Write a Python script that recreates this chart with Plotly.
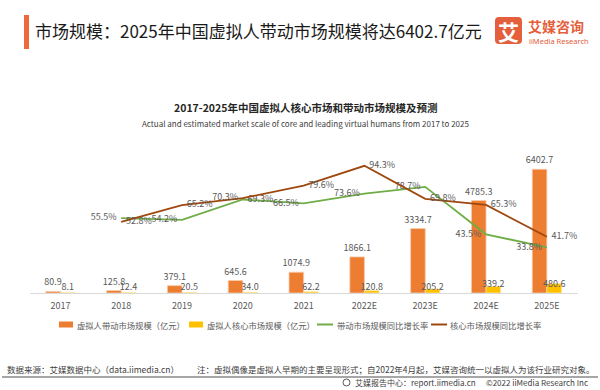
import plotly.graph_objects as go

# ---------------- data ----------------
years = ["2017", "2018", "2019", "2020", "2021", "2022E", "2023E", "2024E", "2025E"]
leading_scale = [80.9, 125.8, 379.1, 645.6, 1074.9, 1866.1, 3334.7, 4785.3, 6402.7]   # 带动市场规模（亿元）
core_scale = [8.1, 12.4, 20.5, 34.0, 62.2, 120.8, 205.2, 339.2, 480.6]                # 核心市场规模（亿元）
growth_years = years[1:]
leading_growth = [55.5, 54.2, 69.3, 66.5, 73.6, 78.7, 43.5, 33.8]   # 带动市场规模同比增长率 (%)
core_growth = [52.8, 65.2, 70.3, 79.6, 94.3, 69.8, 65.3, 41.7]      # 核心市场规模同比增长率 (%)

names = ["虚拟人带动市场规模（亿元）", "虚拟人核心市场规模（亿元）", "带动市场规模同比增长率", "核心市场规模同比增长率"]

# ---------------- style ----------------
FONT = "Noto Sans CJK SC"
C_ORANGE = "#ED7D31"
C_YELLOW = "#FFC000"
C_GREEN = "#70AD47"
C_BROWN = "#9E480E"
C_TXT = "#595959"
C_LOGO = "#E4603C"

W, H = 600, 390
L, R, T, B = 30, 22, 150, 97          # plot area: x 30..578, y 150..293
PW, PH = W - L - R, H - T - B


def px(x):
    return (x - L) / PW


def py(y):
    return (H - B - y) / PH


fig = go.Figure()

fig.add_trace(go.Bar(
    x=years, y=leading_scale, name=names[0],
    marker=dict(color=C_ORANGE, line=dict(color="#F8CBAD", width=0.8)),
    text=[f"{v:.1f}" for v in leading_scale], textposition="outside",
    constraintext="none", textangle=0,
    textfont=dict(family=FONT, size=9, color=C_TXT), cliponaxis=False,
    showlegend=False,
))
fig.add_trace(go.Bar(
    x=years, y=core_scale, name=names[1],
    marker=dict(color=C_YELLOW, line=dict(color="#FFE699", width=0.8)),
    text=[f"{v:.1f}" for v in core_scale], textposition="inside",
    insidetextanchor="start", constraintext="none", textangle=0,
    insidetextfont=dict(family=FONT, size=9, color=C_TXT),
    textfont=dict(family=FONT, size=9, color=C_TXT), cliponaxis=False,
    showlegend=False,
))

green_pos = ["middle left"] * 8
green_pos[2] = "middle right"
brown_pos = ["middle right"] * 8
brown_pos[2] = "middle left"

fig.add_trace(go.Scatter(
    x=growth_years, y=leading_growth, name=names[2], yaxis="y2",
    mode="lines+markers+text", line=dict(color=C_GREEN, width=1.8),
    marker=dict(size=6, opacity=0),
    text=[f"{v:.1f}%" for v in leading_growth], textposition=green_pos,
    textfont=dict(family=FONT, size=9, color=C_TXT), cliponaxis=False,
    showlegend=False,
))
fig.add_trace(go.Scatter(
    x=growth_years, y=core_growth, name=names[3], yaxis="y2",
    mode="lines+markers+text", line=dict(color=C_BROWN, width=1.8),
    marker=dict(size=6, opacity=0),
    text=[f"{v:.1f}%" for v in core_growth], textposition=brown_pos,
    textfont=dict(family=FONT, size=9, color=C_TXT), cliponaxis=False,
    showlegend=False,
))

shapes = []
ann = []

# title bar + title
shapes.append(dict(type="rect", xref="paper", yref="paper", x0=px(24), x1=px(29), y0=py(15), y1=py(49),
                   fillcolor="#EF6A3A", line=dict(width=0)))
ann.append(dict(text="市场规模：2025年中国虚拟人带动市场规模将达6402.7亿元", x=px(33), y=py(30),
                xanchor="left", yanchor="middle", font=dict(family=FONT, size=17, color="#1A1A1A")))

# logo
x0, x1, y0, y1, r = 495, 522, 17, 44, 4
pts = lambda X, Y: f"{px(X)},{py(Y)}"
path = (f"M {pts(x0 + r, y0)} L {pts(x1 - r, y0)} Q {pts(x1, y0)} {pts(x1, y0 + r)} L {pts(x1, y1 - r)} "
        f"Q {pts(x1, y1)} {pts(x1 - r, y1)} L {pts(x0 + r, y1)} Q {pts(x0, y1)} {pts(x0, y1 - r)} "
        f"L {pts(x0, y0 + r)} Q {pts(x0, y0)} {pts(x0 + r, y0)} Z")
shapes.append(dict(type="path", xref="paper", yref="paper", path=path, fillcolor=C_LOGO, line=dict(width=0),
                   layer="above"))
ann.append(dict(text="<b>艾</b>", x=px(508.5), y=py(31), xanchor="center", yanchor="middle",
                font=dict(family=FONT, size=21, color="white")))
ann.append(dict(text="<b>艾媒咨询</b>", x=px(526), y=py(25.5), xanchor="left", yanchor="middle",
                font=dict(family=FONT, size=14, color=C_LOGO)))
ann.append(dict(text="iiMedia Research", x=px(527), y=py(41), xanchor="left", yanchor="middle",
                font=dict(family="Noto Sans", size=7.5, color=C_LOGO)))

# chart titles
ann.append(dict(text="<b>2017-2025年中国虚拟人核心市场和带动市场规模及预测</b>", x=px(305.5), y=py(107),
                xanchor="center", yanchor="middle", font=dict(family=FONT, size=10.5, color="#262626")))
ann.append(dict(text="Actual and estimated market scale of core and leading virtual humans from 2017 to 2025",
                x=px(305), y=py(123), xanchor="center", yanchor="middle",
                font=dict(family=FONT, size=8, color="#404040")))

# legend (manual)
LY = 324.5
shapes.append(dict(type="rect", xref="paper", yref="paper", x0=px(59), x1=px(73), y0=py(LY - 3), y1=py(LY + 3),
                   fillcolor=C_ORANGE, line=dict(width=0)))
ann.append(dict(text=names[0], x=px(75), y=py(LY), xanchor="left", yanchor="middle",
                font=dict(family=FONT, size=8.3, color=C_TXT)))
shapes.append(dict(type="rect", xref="paper", yref="paper", x0=px(189), x1=px(203), y0=py(LY - 3), y1=py(LY + 3),
                   fillcolor=C_YELLOW, line=dict(width=0)))
ann.append(dict(text=names[1], x=px(205), y=py(LY), xanchor="left", yanchor="middle",
                font=dict(family=FONT, size=8.3, color=C_TXT)))
shapes.append(dict(type="line", xref="paper", yref="paper", x0=px(317), x1=px(333), y0=py(LY), y1=py(LY),
                   line=dict(color=C_GREEN, width=2)))
ann.append(dict(text=names[2], x=px(335), y=py(LY), xanchor="left", yanchor="middle",
                font=dict(family=FONT, size=8.3, color=C_TXT)))
shapes.append(dict(type="line", xref="paper", yref="paper", x0=px(431), x1=px(447), y0=py(LY), y1=py(LY),
                   line=dict(color=C_BROWN, width=2)))
ann.append(dict(text=names[3], x=px(448), y=py(LY), xanchor="left", yanchor="middle",
                font=dict(family=FONT, size=8.3, color=C_TXT)))

# footer
ann.append(dict(text="数据来源：艾媒数据中心（data.iimedia.cn）", x=px(5), y=py(369), xanchor="left",
                yanchor="middle", font=dict(family=FONT, size=8.5, color="#404040")))
ann.append(dict(text="注：虚拟偶像是虚拟人早期的主要呈现形式；自2022年4月起，艾媒咨询统一以虚拟人为该行业研究对象。",
                x=px(195), y=py(369), xanchor="left", yanchor="middle",
                font=dict(family=FONT, size=8.5, color="#404040")))
shapes.append(dict(type="line", xref="paper", yref="paper", x0=px(2), x1=px(598), y0=py(377), y1=py(377),
                   line=dict(color="#A6A6A6", width=2)))
shapes.append(dict(type="circle", xref="paper", yref="paper", x0=px(343), x1=px(350), y0=py(379), y1=py(386),
                   line=dict(color="#595959", width=1)))
ann.append(dict(text="艾媒报告中心：report.iimedia.cn", x=px(352.5), y=py(382.5), xanchor="left",
                yanchor="middle", font=dict(family=FONT, size=8, color="#404040")))
ann.append(dict(text="©2022 iiMedia Research Inc", x=px(484), y=py(382.5), xanchor="left",
                yanchor="middle", font=dict(family=FONT, size=8, color="#404040")))

for a in ann:
    a.update(xref="paper", yref="paper", showarrow=False)

fig.update_layout(
    width=W, height=H, margin=dict(l=L, r=R, t=T, b=B, autoexpand=False),
    paper_bgcolor="white", plot_bgcolor="white",
    barmode="group", bargap=0.52, bargroupgap=0,
    xaxis=dict(type="category", showgrid=False, showline=True, linecolor="#D9D9D9", linewidth=1,
               ticks="", tickfont=dict(family=FONT, size=9, color=C_TXT), ticklabelstandoff=4, zeroline=False),
    yaxis=dict(range=[0, 7400], visible=False, showgrid=False, zeroline=False),
    yaxis2=dict(range=[0, 106], overlaying="y", side="right", visible=False, showgrid=False, zeroline=False),
    shapes=shapes, annotations=ann, showlegend=False,
    font=dict(family=FONT),
)

fig.write_html("out.html", config={"displayModeBar": False},
               post_script="document.body.style.margin='0';document.body.style.overflow='hidden';")
